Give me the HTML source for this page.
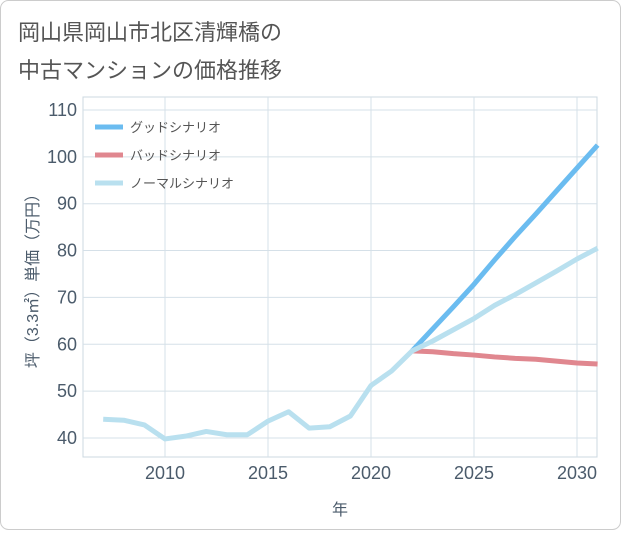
<!DOCTYPE html>
<html><head><meta charset="utf-8"><style>
body{margin:0;background:#fff;font-family:"Liberation Sans","Noto Sans CJK JP",sans-serif}
#wrap{position:relative;width:621px;height:530px}
</style></head><body>
<div id="wrap">
<svg id="svg" width="621" height="530" xmlns="http://www.w3.org/2000/svg">
<rect x="0.5" y="0.5" width="620" height="529" rx="8" fill="#fff" stroke="#ccc"/>
<text x="18" y="40" font-size="22" fill="#555">岡山県岡山市北区清輝橋の</text>
<text x="18" y="78" font-size="22" fill="#555">中古マンションの価格推移</text>
<g id="grid"></g><g id="series"></g>
</svg>
</div>
<script>
const years=[2007,2008,2009,2010,2011,2012,2013,2014,2015,2016,2017,2018,2019,2020,2021,2022,2023,2024,2025,2026,2027,2028,2029,2030,2031];
const normal=[44,43.8,42.8,39.8,40.4,41.4,40.7,40.7,43.6,45.6,42.1,42.4,44.7,51.2,54.3,58.6,60.7,63.1,65.5,68.3,70.6,73.1,75.6,78.2,80.5];
const futureYears=[2022,2023,2024,2025,2026,2027,2028,2029,2030,2031];
const good=[58.6,63.3,68,72.8,78,83,87.8,92.7,97.6,102.5];
const bad=[58.6,58.4,58.0,57.7,57.3,57.0,56.8,56.4,56.0,55.8];
const yTicks=[40,50,60,70,80,90,100,110];
const xTicks=[2010,2015,2020,2025,2030];
const L=83,R=597,T=97,B=457;
const X=v=>165+(v-2010)*20.6;
const Y=v=>438-(v-40)*46.86/10;
const NS="http://www.w3.org/2000/svg";
function mk(tag,attrs,parent,txt){const e=document.createElementNS(NS,tag);for(const k in attrs)e.setAttribute(k,attrs[k]);if(txt!==undefined)e.textContent=txt;parent.appendChild(e);return e;}
const g=document.getElementById('grid'),s=document.getElementById('series');
mk('rect',{x:L,y:T,width:R-L,height:B-T,fill:'none',stroke:'#ccd8e0'},g);
yTicks.forEach(v=>{mk('line',{x1:L,x2:R,y1:Y(v),y2:Y(v),stroke:'#d5e0e8'},g);
const t=mk('text',{x:L-6,y:Y(v)+6,'text-anchor':'end','font-size':18,fill:'#4b5b6b'},g,v);
});
xTicks.forEach(v=>{mk('line',{x1:X(v),x2:X(v),y1:T,y2:B,stroke:'#d5e0e8'},g);
const t=mk('text',{x:X(v),y:B+22,'text-anchor':'middle','font-size':18,fill:'#4b5b6b'},g,v);
});
const xt=mk('text',{x:340,y:515,'text-anchor':'middle','font-size':16,fill:'#4b5b6b'},g,'年');

const yt=mk('text',{x:0,y:0,transform:'translate(38,277) rotate(-90)','text-anchor':'middle','font-size':16,fill:'#4b5b6b'},g,'坪（3.3㎡）単価（万円）');

function line(xs,ys,color,name){const p=mk('polyline',{points:xs.map((x,i)=>X(x)+','+Y(ys[i])).join(' '),fill:'none',stroke:color,'stroke-width':5,'stroke-linejoin':'round'},s);
}
line(futureYears,bad,'#e0878f','bad-scenario-line');
line(futureYears,good,'#6bbcf0','good-scenario-line');
line(years,normal,'#b9e0ef','normal-scenario-line');
const leg=[['グッドシナリオ','#6bbcf0'],['バッドシナリオ','#e0878f'],['ノーマルシナリオ','#b9e0ef']];
leg.forEach((l,i)=>{const y=127+i*28;
mk('line',{x1:95,x2:123,y1:y,y2:y,stroke:l[1],'stroke-width':5},s);
const t=mk('text',{x:130,y:y+5,'font-size':13,fill:'#555'},s,l[0]);
});
</script>
</body></html>
